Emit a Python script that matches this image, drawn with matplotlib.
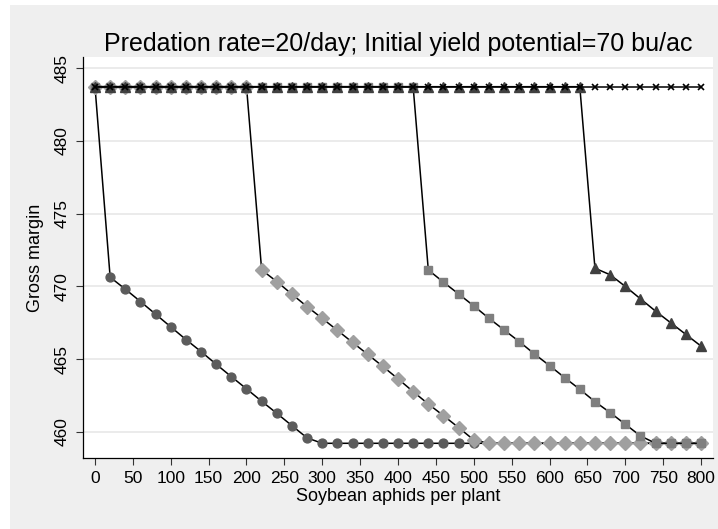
import matplotlib
matplotlib.use("Agg")
import matplotlib.pyplot as plt
from matplotlib.patches import Rectangle

plt.rcParams['font.family'] = ['Liberation Sans', 'DejaVu Sans']

# ---------------- data ----------------
aphids = [0, 20, 40, 60, 80, 100, 120, 140, 160, 180, 200, 220, 240, 260, 280,
          300, 320, 340, 360, 380, 400, 420, 440, 460, 480, 500, 520, 540, 560,
          580, 600, 620, 640, 660, 680, 700, 720, 740, 760, 780, 800]

margin_circle = [483.72, 470.63, 469.81, 468.96, 468.09, 467.22, 466.35, 465.52,
                 464.65, 463.80, 462.96, 462.11, 461.28, 460.43, 459.59,
                 459.22, 459.22, 459.22, 459.22, 459.22, 459.22, 459.22, 459.22,
                 459.22, 459.22, 459.22, 459.22, 459.22, 459.22, 459.22, 459.22,
                 459.22, 459.22, 459.22, 459.22, 459.22, 459.22, 459.22, 459.22,
                 459.22, 459.22]

margin_diamond = [483.72, 483.72, 483.72, 483.72, 483.72, 483.72, 483.72, 483.72,
                  483.72, 483.72, 483.72,
                  471.13, 470.33, 469.46, 468.61, 467.80, 466.98, 466.15, 465.33,
                  464.50, 463.65, 462.77, 461.92, 461.12, 460.30, 459.45,
                  459.22, 459.22, 459.22, 459.22, 459.22, 459.22, 459.22, 459.22,
                  459.22, 459.22, 459.22, 459.22, 459.22, 459.22, 459.22]

margin_square = [483.72, 483.72, 483.72, 483.72, 483.72, 483.72, 483.72, 483.72,
                 483.72, 483.72, 483.72, 483.72, 483.72, 483.72, 483.72, 483.72,
                 483.72, 483.72, 483.72, 483.72, 483.72, 483.72,
                 471.13, 470.29, 469.48, 468.66, 467.81, 467.01, 466.21, 465.36,
                 464.56, 463.73, 462.93, 462.08, 461.33, 460.53, 459.73,
                 459.22, 459.22, 459.22, 459.22]

margin_triangle = [483.72, 483.72, 483.72, 483.72, 483.72, 483.72, 483.72, 483.72,
                   483.72, 483.72, 483.72, 483.72, 483.72, 483.72, 483.72, 483.72,
                   483.72, 483.72, 483.72, 483.72, 483.72, 483.72, 483.72, 483.72,
                   483.72, 483.72, 483.72, 483.72, 483.72, 483.72, 483.72, 483.72,
                   483.72,
                   471.25, 470.80, 470.00, 469.15, 468.30, 467.50, 466.70, 465.90]

margin_x = [483.72, 483.72, 483.72, 483.72, 483.72, 483.72, 483.72, 483.72,
            483.72, 483.72, 483.72, 483.72, 483.72, 483.72, 483.72, 483.72,
            483.72, 483.72, 483.72, 483.72, 483.72, 483.72, 483.72, 483.72,
            483.72, 483.72, 483.72, 483.72, 483.72, 483.72, 483.72, 483.72,
            483.72, 483.72, 483.72, 483.72, 483.72, 483.72, 483.72, 483.72,
            483.72]

x_ticks = [0, 50, 100, 150, 200, 250, 300, 350, 400, 450, 500, 550, 600, 650,
           700, 750, 800]
y_ticks = [460, 465, 470, 475, 480, 485]

title = "Predation rate=20/day; Initial yield potential=70 bu/ac"
xlabel = "Soybean aphids per plant"
ylabel = "Gross margin"

# ---------------- figure ----------------
W, H = 718, 529
fig = plt.figure(figsize=(W / 100, H / 100), dpi=100)
fig.patch.set_facecolor('white')
fig.patches.append(Rectangle((10 / W, 0), 1 - 10 / W, 1 - 5 / H,
                             transform=fig.transFigure, facecolor='#efefef',
                             edgecolor='none', zorder=-10))

ax = fig.add_axes([83 / W, 1 - 458 / H, (713 - 83) / W, (458 - 57) / H])
ax.set_facecolor('white')

line_kw = dict(color='black', linewidth=1.1)
ax.plot(aphids, margin_circle, marker='o', markersize=6.4,
        markerfacecolor='#5c5c5c', markeredgecolor='#5c5c5c', **line_kw, zorder=3)
ax.plot(aphids, margin_diamond, marker='D', markersize=6.8,
        markerfacecolor='#a0a0a0', markeredgecolor='#a0a0a0', **line_kw, zorder=4)
ax.plot(aphids, margin_square, marker='s', markersize=6.0,
        markerfacecolor='#7f7f7f', markeredgecolor='#7f7f7f', **line_kw, zorder=5)
ax.plot(aphids, margin_triangle, marker='^', markersize=6.6,
        markerfacecolor='#404040', markeredgecolor='#404040', **line_kw, zorder=6)
ax.plot(aphids, margin_x, marker='x', markersize=5.0, markeredgewidth=1.2,
        markeredgecolor='black', **line_kw, zorder=7)

ax.set_xlim(-15.84, 815.84)
ax.set_ylim(458.21, 485.76)
ax.set_xticks(x_ticks)
ax.set_yticks(y_ticks)
ax.grid(axis='y', color='#e6e6e6', linewidth=1.1, zorder=0)
ax.set_axisbelow(True)

for s in ['top', 'right']:
    ax.spines[s].set_visible(False)
for s in ['left', 'bottom']:
    ax.spines[s].set_color('black')
    ax.spines[s].set_linewidth(0.9)

ax.tick_params(axis='both', length=5, width=0.8, color='#333333',
               labelsize=12.5, pad=4.5)
ax.tick_params(axis='y', labelrotation=90)
for lab in ax.get_yticklabels():
    lab.set_va('center')

ax.set_title(title, fontsize=18, pad=4)
ax.set_xlabel(xlabel, fontsize=13, labelpad=1)
ax.set_ylabel(ylabel, fontsize=13, labelpad=8)

fig.savefig('out.png', dpi=100)
